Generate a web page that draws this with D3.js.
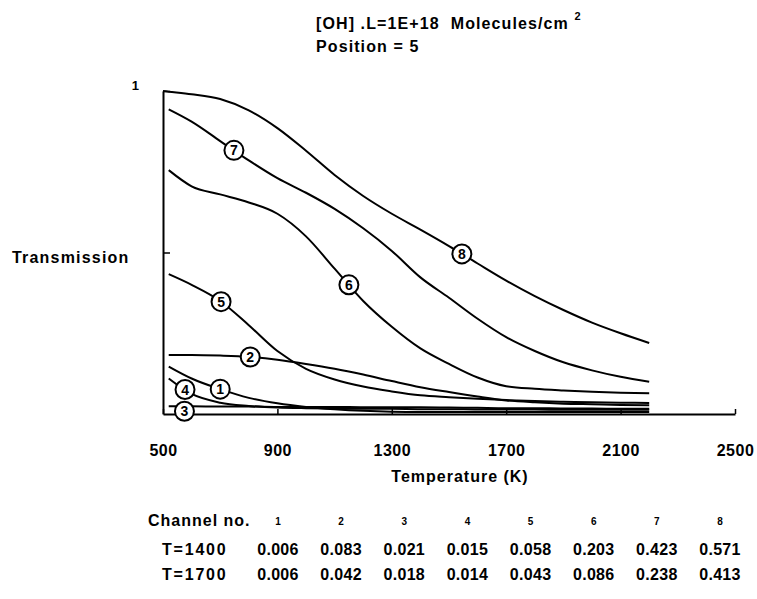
<!DOCTYPE html>
<html>
<head>
<meta charset="utf-8">
<script src="https://cdn.jsdelivr.net/npm/d3@7/dist/d3.min.js"></script>
<style>
  html, body { margin: 0; padding: 0; background: #fff; }
  svg { display: block; }
  text { font-family: "Liberation Sans", Arial, Helvetica, sans-serif; font-weight: bold; fill: #000; }
</style>
</head>
<body>
<svg id="chart" width="757" height="599"></svg>
<script>
// ---------------- data ----------------
const tempsK = [500, 520, 600, 700, 800, 900, 1000, 1100, 1200, 1300, 1400, 1500, 1600, 1700, 1800, 1900, 2000, 2100, 2200];
const ch1 = [null, 0.147, 0.110, 0.077, 0.050, 0.033, 0.022, 0.015, 0.010, 0.007, 0.006, 0.006, 0.006, 0.006, 0.006, 0.006, 0.006, 0.006, 0.006];
const ch2 = [null, 0.183, 0.183, 0.181, 0.177, 0.168, 0.155, 0.140, 0.122, 0.102, 0.083, 0.068, 0.054, 0.042, 0.036, 0.032, 0.030, 0.028, 0.027];
const ch3 = [null, 0.024, 0.024, 0.023, 0.023, 0.022, 0.022, 0.022, 0.021, 0.021, 0.021, 0.020, 0.019, 0.018, 0.018, 0.017, 0.017, 0.016, 0.016];
const ch4 = [null, 0.110, 0.062, 0.035, 0.025, 0.020, 0.018, 0.017, 0.016, 0.016, 0.015, 0.015, 0.014, 0.014, 0.014, 0.013, 0.013, 0.013, 0.013];
const ch5 = [null, 0.433, 0.400, 0.350, 0.275, 0.195, 0.140, 0.107, 0.085, 0.070, 0.058, 0.052, 0.047, 0.043, 0.040, 0.038, 0.036, 0.035, 0.034];
const ch6 = [null, 0.755, 0.705, 0.680, 0.655, 0.620, 0.550, 0.450, 0.350, 0.270, 0.203, 0.155, 0.113, 0.086, 0.078, 0.073, 0.069, 0.066, 0.064];
const ch7 = [null, 0.943, 0.905, 0.845, 0.785, 0.730, 0.685, 0.635, 0.575, 0.505, 0.423, 0.360, 0.295, 0.238, 0.195, 0.160, 0.135, 0.115, 0.100];
const ch8 = [1.000, 0.998, 0.990, 0.975, 0.940, 0.885, 0.815, 0.740, 0.675, 0.620, 0.571, 0.520, 0.466, 0.413, 0.365, 0.322, 0.283, 0.250, 0.220];
const series = [ch1, ch2, ch3, ch4, ch5, ch6, ch7, ch8];
const channelNames = ["1", "2", "3", "4", "5", "6", "7", "8"];
const labelTempK = [700, 805, 575, 577, 703, 1150, 748, 1545];

const xTicks = [500, 900, 1300, 1700, 2100, 2500];
const yTicks = [0.5, 1];

const tableRows = ["T=1400", "T=1700"];
const t1400 = [0.006, 0.083, 0.021, 0.015, 0.058, 0.203, 0.423, 0.571];
const t1700 = [0.006, 0.042, 0.018, 0.014, 0.043, 0.086, 0.238, 0.413];

// ---------------- layout ----------------
const svg = d3.select("#chart");
const x = d3.scaleLinear().domain([500, 2500]).range([163, 735]);
const y = d3.scaleLinear().domain([0, 1]).range([414, 91]);

// title
const title = svg.append("text").attr("x", 316).attr("y", 29).style("font-size", "16px").style("letter-spacing", "1.1px");
title.append("tspan").text("[OH] .L=1E+18\u00a0\u00a0Molecules/cm ");
title.append("tspan").attr("dy", -9).style("font-size", "11px").text("2");
svg.append("text").attr("x", 316).attr("y", 52).style("font-size", "16px").style("letter-spacing", "1.1px").text("Position = 5");

// axes
const xAxis = svg.append("g").attr("transform", `translate(0,${y(0)})`)
  .call(d3.axisBottom(x).tickValues(xTicks).tickFormat(d3.format("d")).tickSize(-5).tickSizeOuter(0).tickPadding(31));
xAxis.select(".domain").attr("stroke-width", 2);
xAxis.selectAll(".tick line").attr("stroke-width", 1.5);
xAxis.selectAll(".tick text").style("font-size", "16px").style("letter-spacing", "0.5px").attr("fill", "#000");

const yAxis = svg.append("g").attr("transform", `translate(${x(500)},0)`)
  .call(d3.axisLeft(y).tickValues(yTicks).tickSize(-7).tickSizeOuter(0).tickPadding(24)
    .tickFormat(d => d === 1 ? "1" : ""));
yAxis.select(".domain").attr("stroke-width", 2);
yAxis.selectAll(".tick line").attr("stroke-width", 1.5);
yAxis.selectAll(".tick text").style("font-size", "13px").attr("dy", "-0.1em").attr("fill", "#000");

svg.append("text").attr("x", 12).attr("y", 263).style("font-size", "16px").style("letter-spacing", "1.2px").text("Transmission");
svg.append("text").attr("x", 460).attr("y", 482).attr("text-anchor", "middle")
  .style("font-size", "16px").style("letter-spacing", "1px").text("Temperature (K)");

// curves
const line = d3.line()
  .defined(d => d[1] !== null)
  .x(d => x(d[0])).y(d => y(d[1]))
  .curve(d3.curveMonotoneX);

series.forEach(vals => {
  const pts = tempsK.map((t, i) => [t, vals[i]]);
  svg.append("path").datum(pts).attr("d", line)
    .attr("fill", "none").attr("stroke", "#000").attr("stroke-width", 2);
});

// circled labels
function valueAt(vals, t) {
  const pts = tempsK.map((tt, i) => [tt, vals[i]]).filter(p => p[1] !== null);
  for (let i = 0; i < pts.length - 1; i++) {
    if (t >= pts[i][0] && t <= pts[i + 1][0]) {
      const f = (t - pts[i][0]) / (pts[i + 1][0] - pts[i][0]);
      return pts[i][1] + f * (pts[i + 1][1] - pts[i][1]);
    }
  }
  return pts[0][1];
}
series.forEach((vals, i) => {
  const cx = x(labelTempK[i]);
  let cy = y(valueAt(vals, labelTempK[i]));
  if (channelNames[i] === "3") cy += 5;
  const g = svg.append("g").attr("transform", `translate(${cx},${cy})`);
  g.append("circle").attr("r", 9.5).attr("fill", "#fff").attr("stroke", "#000").attr("stroke-width", 2);
  g.append("text").attr("text-anchor", "middle").attr("dy", "0.36em").style("font-size", "14px").text(channelNames[i]);
});

// table
const col = d3.scalePoint().domain(channelNames).range([278, 720]);
svg.append("text").attr("x", 148).attr("y", 526).style("font-size", "16px").style("letter-spacing", "1px").text("Channel no.");
svg.selectAll(".hdr").data(channelNames).join("text").attr("class", "hdr")
  .attr("x", d => col(d)).attr("y", 525).attr("text-anchor", "middle").style("font-size", "10px").text(d => d);
[t1400, t1700].forEach((row, r) => {
  const yy = 555 + r * 25;
  svg.append("text").attr("x", 162).attr("y", yy).style("font-size", "16px").style("letter-spacing", "1.8px").text(tableRows[r]);
  svg.selectAll(".row" + r).data(row).join("text").attr("class", "row" + r)
    .attr("x", (d, i) => col(channelNames[i])).attr("y", yy).attr("text-anchor", "middle")
    .style("font-size", "16px").style("letter-spacing", "0.3px").text(d => d.toFixed(3));
});
</script>
</body>
</html>
